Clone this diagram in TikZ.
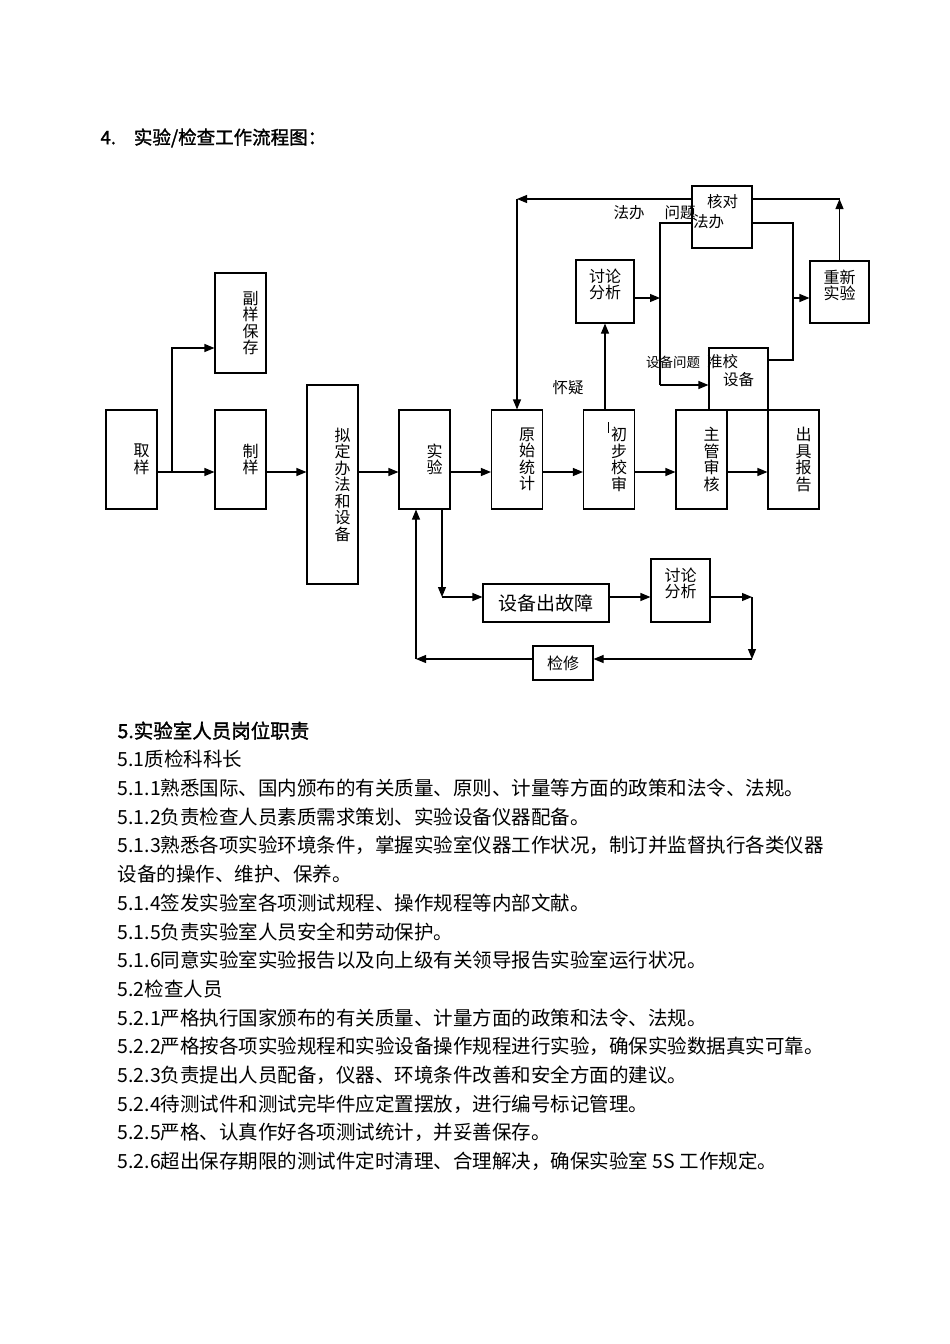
\documentclass[tikz,border=0pt]{standalone}
\usepackage{fontspec}
\setmainfont{Noto Sans CJK SC}
\newfontfamily\zhbf[FakeBold=1.5]{Noto Sans CJK SC}
\usepackage{tikz}
\usetikzlibrary{arrows.meta}

\begin{document}
\begin{tikzpicture}[x=1pt, y=-1pt, line width=1.1pt,
  colbox/.style={draw, minimum width=51pt, text width=36pt, inner xsep=7.5pt, inner ysep=0pt, align=right, font=\fontsize{16}{16.5}\selectfont},
  plainbox/.style={draw, inner sep=0pt, align=center, font=\fontsize{16}{16}\selectfont},
  boxtext/.style={align=center, inner sep=0pt, font=\fontsize{16}{16}\selectfont},
  note/.style={inner sep=0pt, font=\fontsize{15.5}{15.5}\selectfont},
  arr/.style={-{Triangle[length=10pt,width=8pt]}}
]
  \useasboundingbox (0,0) rectangle (950,1344);

  \node[anchor=west, inner sep=0pt, font=\zhbf\fontsize{18.5}{18.5}\selectfont] (title) at (100,138) {4.\hspace{18pt}实验/检查工作流程图：};

  \node[colbox, minimum height=99pt] (qu) at (131.5,459.5) {取\\样};
  \node[colbox, minimum height=100pt] (fuyang) at (240.5,323) {副\\样\\保\\存};
  \node[colbox, minimum height=99pt] (zhiyang) at (240.5,459.5) {制\\样};
  \node[colbox, minimum height=199pt] (niding) at (332.5,484.5) {拟\\定\\办\\法\\和\\设\\备};
  \node[colbox, minimum height=99pt] (shiyan) at (424.5,459.5) {实\\验};
  \node[colbox, minimum height=99pt] (yuanshi) at (517,459.5) {原\\始\\统\\计};
  \node[colbox, minimum height=99pt] (chubu) at (609,459.5) {初\\步\\校\\审};
  \node[colbox, minimum height=99pt] (zhuguan) at (701.5,459.5) {主\\管\\审\\核};
  \node[colbox, minimum height=99pt] (chuju) at (793.5,459.5) {出\\具\\报\\告};

  \node[plainbox, minimum width=58pt, minimum height=63pt, label={[boxtext, anchor=north, yshift=-9pt]north:讨论\\分析}] (taolun) at (605,291.5) {};
  \node[plainbox, minimum width=60pt, minimum height=62pt, label={[boxtext, align=left, anchor=north west, xshift=1pt, yshift=-8pt, font=\fontsize{15.5}{20}\selectfont]north west:\hspace*{14pt}核对\\法办}] (hedui) at (722,217) {};
  \node[plainbox, minimum width=59pt, minimum height=62pt, label={[boxtext, anchor=north, yshift=-9pt]north:重新\\实验}] (chongxin) at (839.5,292) {};
  \node[plainbox, minimum width=59pt, minimum height=62pt, label={[boxtext, align=left, anchor=north west, xshift=-2pt, yshift=-6pt, font=\fontsize{15.5}{18}\selectfont]north west:准校\\\hspace*{16pt}设备}] (zhunjiao) at (738.5,379) {};

  \node[plainbox, minimum width=126pt, minimum height=38pt, font=\fontsize{19}{19}\selectfont] (guzhang) at (546,603) {设备出故障};
  \node[plainbox, minimum width=59pt, minimum height=63pt, label={[boxtext, anchor=north, yshift=-9pt]north:讨论\\分析}] (taolun2) at (680.5,590.5) {};
  \node[plainbox, minimum width=60pt, minimum height=34pt] (jianxiu) at (563,663) {检修};

  \node[note] (fabanlbl) at (629,213) {法办};
  \node[note] (wentilbl) at (680,213) {问题};
  \node[note] (huaiyi) at (568,388) {怀疑};
  \node[note, font=\fontsize{13.5}{13.5}\selectfont] (shebeiwt) at (673,362) {设备问题};
  \draw[line width=0.8pt] (608,422) -- (608,433);

  \coordinate (row) at (0,472);
  \coordinate (split) at (172,472);
  \coordinate (midrow) at (0,298);
  \coordinate (tl) at (517,199);
  \coordinate (lbtop) at (660,223);
  \coordinate (lbbot) at (660,385);
  \coordinate (rbtop) at (793,223);
  \coordinate (rbbot) at (793,360);
  \coordinate (dn) at (442,597);
  \coordinate (rt) at (752,597);
  \coordinate (rb) at (752,659);
  \coordinate (lb) at (416,659);

  \draw[arr] (qu.east |- row) -- (zhiyang.west |- row);
  \draw[arr] (split) |- ([yshift=-25pt]fuyang.west);
  \draw[arr] (zhiyang.east |- row) -- (niding.west |- row);
  \draw[arr] (niding.east |- row) -- (shiyan.west |- row);
  \draw[arr] (shiyan.east |- row) -- (yuanshi.west |- row);
  \draw[arr] (yuanshi.east |- row) -- (chubu.west |- row);
  \draw[arr] (chubu.east |- row) -- (zhuguan.west |- row);
  \draw[arr] (zhuguan.east |- row) -- (chuju.west |- row);

  \draw[arr] (taolun.south |- chubu.north) -- (taolun.south);
  \draw[arr] (taolun.east |- midrow) -- (lbtop |- midrow);
  \draw (hedui.west |- lbtop) -- (lbtop) -- (lbbot);
  \draw[arr] (lbbot) -- (zhunjiao.west |- lbbot);
  \draw (hedui.east |- rbtop) -- (rbtop) -- (rbbot) -- (zhunjiao.east |- rbbot);
  \draw[arr] (rbtop |- midrow) -- (chongxin.west |- midrow);
  \draw[arr] (hedui.west |- tl) -- (tl);
  \draw[arr] (tl) -- (yuanshi.north);
  \draw (hedui.east |- tl) -- (chongxin.north |- tl);
  \draw[arr] (chongxin.north) -- (chongxin.north |- tl);

  \draw[arr] (shiyan.south -| dn) -- (dn);
  \draw[arr] (dn) -- (guzhang.west |- dn);
  \draw[arr] (guzhang.east |- dn) -- (taolun2.west |- dn);
  \draw[arr] (taolun2.east |- rt) -- (rt);
  \draw[arr] (rt) -- (rb);
  \draw[arr] (rb) -- (jianxiu.east |- rb);
  \draw[arr] (jianxiu.west |- lb) -- (lb);
  \draw[arr] (lb) -- (shiyan.south -| lb);

  \node[anchor=north west, inner sep=0pt, align=left, font=\fontsize{19.5}{28.7}\selectfont] (duties) at (117,721) {{\zhbf 5.实验室人员岗位职责}\\
    5.1质检科科长\\
    5.1.1熟悉国际、国内颁布的有关质量、原则、计量等方面的政策和法令、法规。\\
    5.1.2负责检查人员素质需求策划、实验设备仪器配备。\\
    5.1.3熟悉各项实验环境条件，掌握实验室仪器工作状况，制订并监督执行各类仪器\\
    设备的操作、维护、保养。\\
    5.1.4签发实验室各项测试规程、操作规程等内部文献。\\
    5.1.5负责实验室人员安全和劳动保护。\\
    5.1.6同意实验室实验报告以及向上级有关领导报告实验室运行状况。\\
    5.2检查人员\\
    5.2.1严格执行国家颁布的有关质量、计量方面的政策和法令、法规。\\
    5.2.2严格按各项实验规程和实验设备操作规程进行实验，确保实验数据真实可靠。\\
    5.2.3负责提出人员配备，仪器、环境条件改善和安全方面的建议。\\
    5.2.4待测试件和测试完毕件应定置摆放，进行编号标记管理。\\
    5.2.5严格、认真作好各项测试统计，并妥善保存。\\
    5.2.6超出保存期限的测试件定时清理、合理解决，确保实验室 5S 工作规定。};
\end{tikzpicture}
\end{document}
